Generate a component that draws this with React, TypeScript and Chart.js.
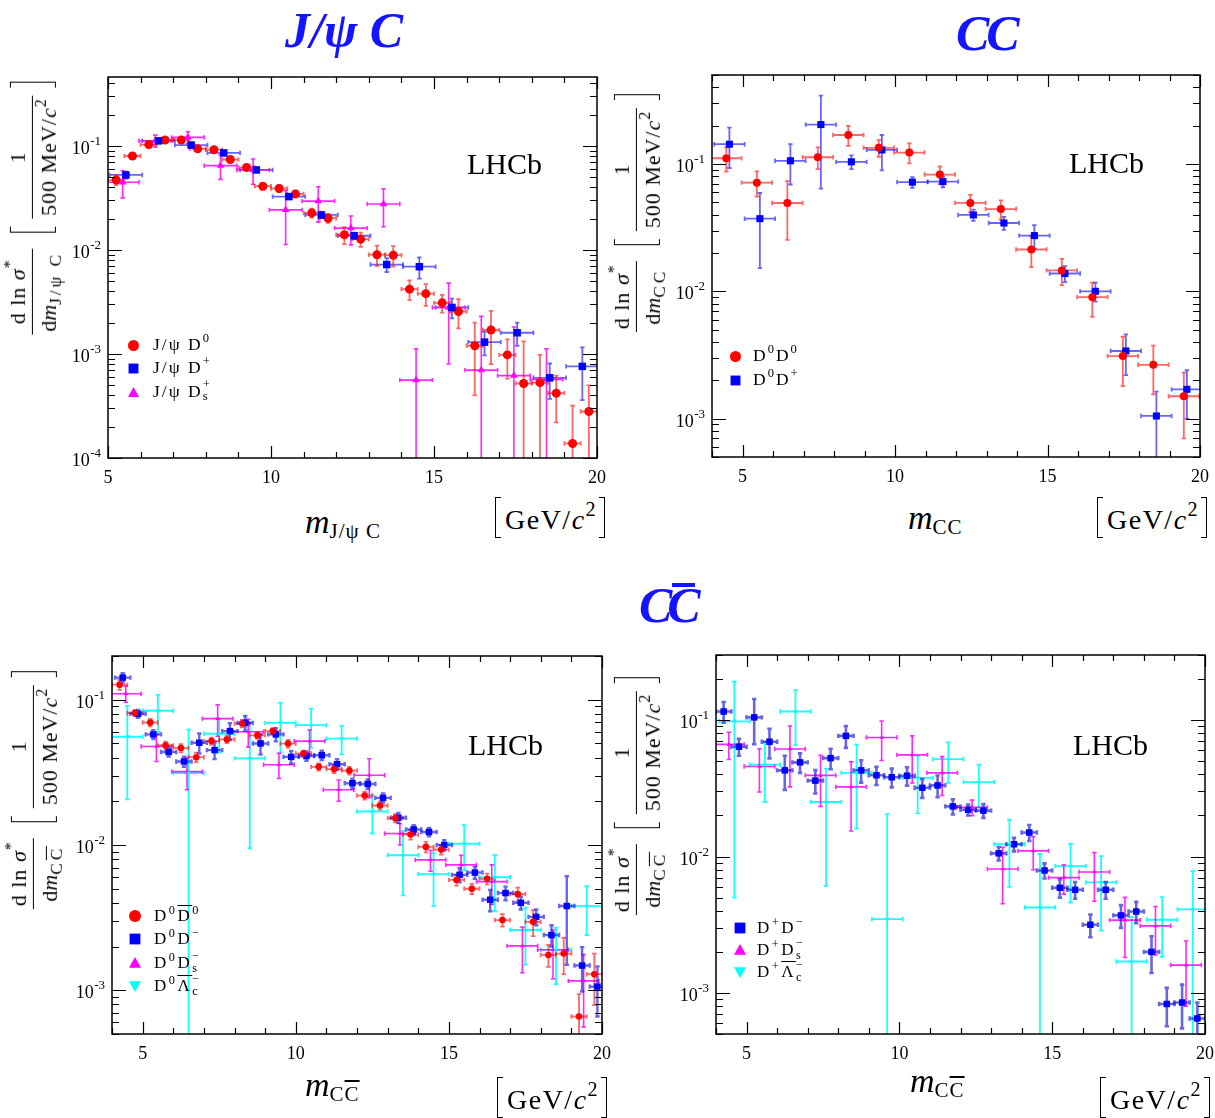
import React, { useEffect, useRef } from "react";
import { Chart, registerables } from "chart.js";

Chart.register(...registerables);

const SERIF = '"Liberation Serif", "DejaVu Serif", serif';
const TITLE_BLUE = "#1414ff";

// ---------- axis ticks ----------
const X_TICK_LABELS = [5, 10, 15, 20];

// ---------- Panel 1 : J/psi C ----------
const P1_JPSID0_X = [5.25, 5.75, 6.25, 6.75, 7.25, 7.75, 8.25, 8.75, 9.25, 9.75, 10.25, 10.75, 11.25, 11.75, 12.25, 12.75, 13.25, 13.75, 14.25, 14.75, 15.25, 15.75, 16.25, 16.75, 17.25, 17.75, 18.25, 18.75, 19.25, 19.75];
const P1_JPSID0_Y = [0.047, 0.08, 0.103, 0.114, 0.114, 0.094, 0.092, 0.074, 0.062, 0.041, 0.039, 0.0346, 0.0227, 0.0202, 0.014, 0.0127, 0.009, 0.0089, 0.0042, 0.0038, 0.0031, 0.00256, 0.0012, 0.0017, 0.00098, 0.00052, 0.00053, 0.00042, 0.000138, 0.00028];
const P1_JPSID0_E = [0.005, 0.005, 0.005, 0.005, 0.005, 0.004, 0.004, 0.004, 0.003, 0.003, 0.003, 0.0025, 0.0022, 0.002, 0.0026, 0.002, 0.002, 0.002, 0.0009, 0.0009, 0.0006, 0.0008, 0.0008, 0.0009, 0.0004, 0.0008, 0.00045, 0.0002, 0.00018, 0.00022];

const P1_JPSIDP_X = [5.55, 6.55, 7.55, 8.55, 9.55, 10.55, 11.55, 12.55, 13.55, 14.55, 15.55, 16.55, 17.55, 18.55, 19.55];
const P1_JPSIDP_Y = [0.0526, 0.112, 0.102, 0.0857, 0.0588, 0.0326, 0.0217, 0.0137, 0.00724, 0.0069, 0.0028, 0.0013, 0.0016, 0.00059, 0.00076];
const P1_JPSIDP_E = [0.004, 0.006, 0.005, 0.004, 0.003, 0.002, 0.0015, 0.001, 0.0011, 0.0016, 0.0006, 0.00033, 0.0004, 0.00022, 0.0004];

const P1_JPSIDS_X = [5.45, 6.45, 7.45, 8.45, 9.45, 10.45, 11.45, 12.45, 13.45, 14.45, 15.45, 16.45, 17.45, 18.45];
const P1_JPSIDS_Y = [0.0447, 0.112, 0.121, 0.0647, 0.0588, 0.0243, 0.0295, 0.0162, 0.0277, 0.00056, 0.0028, 0.0007, 0.00062, 0.00057];
const P1_JPSIDS_E = [0.013, 0.015, 0.016, 0.017, 0.016, 0.013, 0.011, 0.005, 0.011, 0.00056, 0.002, 0.0016, 0.0012, 0.00055];

// ---------- Panel 2 : CC ----------
const P2_D0D0_X = [4.47, 5.47, 6.47, 7.47, 8.47, 9.47, 10.47, 11.47, 12.47, 13.47, 14.47, 15.47, 16.47, 17.47, 18.47, 19.47];
const P2_D0D0_Y = [0.111, 0.0714, 0.0494, 0.113, 0.169, 0.134, 0.123, 0.0826, 0.0495, 0.0443, 0.0213, 0.0146, 0.009, 0.0031, 0.00265, 0.0015];
const P2_D0D0_E = [0.024, 0.016, 0.024, 0.022, 0.03, 0.02, 0.022, 0.013, 0.0078, 0.0075, 0.0058, 0.0034, 0.0027, 0.0013, 0.0011, 0.0008];

const P2_D0DP_X = [4.57, 5.57, 6.57, 7.57, 8.57, 9.57, 10.57, 11.57, 12.57, 13.57, 14.57, 15.57, 16.57, 17.57, 18.57, 19.57];
const P2_D0DP_Y = [0.143, 0.0372, 0.106, 0.204, 0.104, 0.129, 0.072, 0.0727, 0.0398, 0.0344, 0.0274, 0.0138, 0.01, 0.0034, 0.00105, 0.0017];
const P2_D0DP_E = [0.05, 0.022, 0.037, 0.14, 0.013, 0.04, 0.007, 0.007, 0.004, 0.004, 0.0057, 0.002, 0.0017, 0.0012, 0.00058, 0.0007];

// ---------- Panel 3 : C Cbar (D0 + X) ----------
const P3_D0D0B_X = [4.25, 4.75, 5.25, 5.75, 6.25, 6.75, 7.25, 7.75, 8.25, 8.75, 9.25, 9.75, 10.25, 10.75, 11.25, 11.75, 12.25, 12.75, 13.25, 13.75, 14.25, 14.75, 15.25, 15.75, 16.25, 16.75, 17.25, 17.75, 18.25, 18.75, 19.25, 19.75];
const P3_D0D0B_Y = [0.127, 0.081, 0.0697, 0.0485, 0.0465, 0.0402, 0.0519, 0.0533, 0.0686, 0.0568, 0.0608, 0.0499, 0.0426, 0.0345, 0.0333, 0.0325, 0.0219, 0.0187, 0.0153, 0.0118, 0.0097, 0.0093, 0.00575, 0.005, 0.00585, 0.00304, 0.00459, 0.00296, 0.00175, 0.00179, 0.00066, 0.00129];
const P3_D0D0B_E = [0.01, 0.004, 0.004, 0.003, 0.003, 0.003, 0.003, 0.003, 0.004, 0.003, 0.003, 0.003, 0.002, 0.002, 0.002, 0.002, 0.0014, 0.0012, 0.001, 0.0009, 0.0008, 0.0007, 0.0005, 0.0004, 0.0005, 0.0003, 0.0005, 0.0006, 0.0003, 0.0005, 0.00028, 0.0005];

const P3_D0DM_X = [4.35, 4.85, 5.35, 5.85, 6.35, 6.85, 7.35, 7.85, 8.35, 8.85, 9.35, 9.85, 10.35, 10.85, 11.35, 11.85, 12.35, 12.85, 13.35, 13.85, 14.35, 14.85, 15.35, 15.85, 16.35, 16.85, 17.35, 17.85, 18.35, 18.85, 19.35, 19.85];
const P3_D0DM_Y = [0.142, 0.08, 0.0577, 0.0437, 0.0376, 0.0506, 0.045, 0.0608, 0.0693, 0.05, 0.0577, 0.0404, 0.041, 0.0415, 0.036, 0.0266, 0.0263, 0.0211, 0.0154, 0.0128, 0.0123, 0.01, 0.00623, 0.00646, 0.0042, 0.00467, 0.004, 0.0032, 0.0024, 0.0038, 0.00148, 0.00106];
const P3_D0DM_E = [0.01, 0.005, 0.004, 0.003, 0.003, 0.008, 0.006, 0.008, 0.008, 0.008, 0.006, 0.004, 0.003, 0.003, 0.003, 0.002, 0.002, 0.0015, 0.0012, 0.0009, 0.0008, 0.0008, 0.0007, 0.0006, 0.0007, 0.0005, 0.0004, 0.0004, 0.0004, 0.0023, 0.0005, 0.0004];

const P3_D0DS_X = [4.45, 5.45, 6.45, 7.45, 8.45, 9.45, 10.45, 11.4, 12.4, 13.4, 14.4, 15.4, 16.4, 17.4, 18.4, 19.4];
const P3_D0DS_Y = [0.11, 0.0476, 0.032, 0.0741, 0.0602, 0.0357, 0.0519, 0.024, 0.0302, 0.012, 0.0079, 0.0073, 0.0056, 0.00202, 0.0019, 0.00116];
const P3_D0DS_E = [0.014, 0.01, 0.008, 0.018, 0.013, 0.007, 0.01, 0.004, 0.009, 0.002, 0.0013, 0.0012, 0.0017, 0.0007, 0.0007, 0.0006];

const P3_D0LC_X = [4.5, 5.5, 6.5, 7.5, 8.5, 9.5, 10.5, 11.5, 12.5, 13.5, 14.5, 15.5, 16.5, 17.5, 18.5, 19.5];
const P3_D0LC_Y = [0.0556, 0.084, 0.0313, 0.0583, 0.0395, 0.0693, 0.0668, 0.054, 0.017, 0.0085, 0.0063, 0.0102, 0.006, 0.0026, 0.0019, 0.0038];
const P3_D0LC_E = [0.035, 0.024, 0.031, 0.015, 0.03, 0.026, 0.02, 0.012, 0.005, 0.004, 0.0025, 0.0035, 0.0025, 0.0011, 0.0008, 0.0014];

// ---------- Panel 4 : C Cbar (D+ + X) ----------
const P4_DPDM_X = [4.25, 4.75, 5.25, 5.75, 6.25, 6.75, 7.25, 7.75, 8.25, 8.75, 9.25, 9.75, 10.25, 10.75, 11.25, 11.75, 12.25, 12.75, 13.25, 13.75, 14.25, 14.75, 15.25, 15.75, 16.25, 16.75, 17.25, 17.75, 18.25, 18.75, 19.25, 19.75];
const P4_DPDM_Y = [0.1156, 0.0638, 0.1047, 0.0694, 0.0428, 0.049, 0.036, 0.0526, 0.0766, 0.0428, 0.0394, 0.0381, 0.0391, 0.0319, 0.0332, 0.0233, 0.022, 0.0217, 0.01055, 0.0123, 0.015, 0.0079, 0.0059, 0.0057, 0.00316, 0.0057, 0.0037, 0.00395, 0.002, 0.00083, 0.00085, 0.00065];
const P4_DPDM_E = [0.02, 0.009, 0.038, 0.017, 0.012, 0.008, 0.007, 0.009, 0.014, 0.008, 0.006, 0.006, 0.006, 0.005, 0.006, 0.003, 0.002, 0.0025, 0.0012, 0.0014, 0.002, 0.001, 0.0009, 0.0008, 0.0006, 0.0008, 0.0007, 0.0007, 0.0006, 0.00026, 0.0003, 0.0002];

const P4_DPDS_X = [4.42, 5.42, 6.42, 7.42, 8.42, 9.42, 10.42, 11.4, 12.38, 13.38, 14.38, 15.38, 16.38, 17.38, 18.38, 19.38];
const P4_DPDS_Y = [0.0664, 0.0457, 0.0614, 0.0393, 0.0324, 0.0745, 0.0556, 0.041, 0.0229, 0.0081, 0.011, 0.007, 0.0077, 0.00342, 0.0031, 0.0016];
const P4_DPDS_E = [0.015, 0.016, 0.029, 0.016, 0.017, 0.024, 0.021, 0.013, 0.003, 0.0036, 0.003, 0.0017, 0.003, 0.0016, 0.0012, 0.0008];

const P4_DPLC_X = [4.6, 5.6, 6.6, 7.6, 8.6, 9.6, 10.6, 11.6, 12.6, 13.6, 14.6, 15.6, 16.6, 17.6, 18.6, 19.6];
const P4_DPLC_Y = [0.098, 0.0471, 0.1156, 0.0251, 0.041, 0.00348, 0.0377, 0.0517, 0.0351, 0.0123, 0.00423, 0.0085, 0.00646, 0.0017, 0.00344, 0.0041];
const P4_DPLC_E = [0.093, 0.022, 0.05, 0.019, 0.025, 0.017, 0.017, 0.017, 0.012, 0.0063, 0.0062, 0.0039, 0.0036, 0.0019, 0.0016, 0.0037];

// ---------- styling ----------
const RED = "#ff0000";
const BLUE = "#0000ff";
const MAGENTA = "#ff00ff";
const CYAN = "#00ffff";

type SeriesSpec = {
  label: string;
  x: number[];
  y: number[];
  e: number[];
  halfWidth: number;
  color: string;
  barColor: string;
  barWidth: number;
  style: string;
  radius: number;
  rotation?: number;
};

type PanelSpec = {
  id: string;
  rect: { l: number; t: number; r: number; b: number };
  padRight: number;
  xMin: number;
  xMax: number;
  yMin: number;
  yMax: number;
  series: SeriesSpec[];
};

const PANELS: PanelSpec[] = [
  {
    id: "jpsic",
    rect: { l: 108, t: 77, r: 597, b: 458 },
    padRight: 14,
    xMin: 5, xMax: 20, yMin: 1e-4, yMax: 0.46,
    series: [
      { label: "J/ψ D+", x: P1_JPSIDP_X, y: P1_JPSIDP_Y, e: P1_JPSIDP_E, halfWidth: 0.5, color: BLUE, barColor: "rgba(0,0,255,0.6)", barWidth: 1.8, style: "rect", radius: 5.3 },
      { label: "J/ψ Ds+", x: P1_JPSIDS_X, y: P1_JPSIDS_Y, e: P1_JPSIDS_E, halfWidth: 0.5, color: MAGENTA, barColor: "rgba(255,0,255,0.85)", barWidth: 1.6, style: "triangle", radius: 4.4 },
      { label: "J/ψ D0", x: P1_JPSID0_X, y: P1_JPSID0_Y, e: P1_JPSID0_E, halfWidth: 0.25, color: RED, barColor: "rgba(255,0,0,0.6)", barWidth: 1.8, style: "circle", radius: 4.5 },
    ],
  },
  {
    id: "cc",
    rect: { l: 712, t: 75, r: 1200, b: 457 },
    padRight: 12,
    xMin: 4, xMax: 20, yMin: 5e-4, yMax: 0.5,
    series: [
      { label: "D0D0", x: P2_D0D0_X, y: P2_D0D0_Y, e: P2_D0D0_E, halfWidth: 0.5, color: RED, barColor: "rgba(255,0,0,0.6)", barWidth: 1.8, style: "circle", radius: 4 },
      { label: "D0D+", x: P2_D0DP_X, y: P2_D0DP_Y, e: P2_D0DP_E, halfWidth: 0.5, color: BLUE, barColor: "rgba(0,0,255,0.6)", barWidth: 1.8, style: "rect", radius: 5 },
    ],
  },
  {
    id: "ccbar1",
    rect: { l: 112, t: 656, r: 602, b: 1034 },
    padRight: 12,
    xMin: 4, xMax: 20, yMin: 5e-4, yMax: 0.2,
    series: [
      { label: "D0Lc-", x: P3_D0LC_X, y: P3_D0LC_Y, e: P3_D0LC_E, halfWidth: 0.5, color: CYAN, barColor: "rgba(0,255,255,0.9)", barWidth: 1.8, style: "triangle", radius: 2.6, rotation: 180 },
      { label: "D0Ds-", x: P3_D0DS_X, y: P3_D0DS_Y, e: P3_D0DS_E, halfWidth: 0.5, color: MAGENTA, barColor: "rgba(255,0,255,0.85)", barWidth: 1.6, style: "triangle", radius: 2.6 },
      { label: "D0D0bar", x: P3_D0D0B_X, y: P3_D0D0B_Y, e: P3_D0D0B_E, halfWidth: 0.25, color: RED, barColor: "rgba(255,0,0,0.6)", barWidth: 1.8, style: "circle", radius: 3.3 },
      { label: "D0D-", x: P3_D0DM_X, y: P3_D0DM_Y, e: P3_D0DM_E, halfWidth: 0.25, color: BLUE, barColor: "rgba(0,0,230,0.6)", barWidth: 2.4, style: "rect", radius: 4.6 },
    ],
  },
  {
    id: "ccbar2",
    rect: { l: 716, t: 655, r: 1205, b: 1034 },
    padRight: 9,
    xMin: 4, xMax: 20, yMin: 5e-4, yMax: 0.3,
    series: [
      { label: "D+Lc-", x: P4_DPLC_X, y: P4_DPLC_Y, e: P4_DPLC_E, halfWidth: 0.5, color: CYAN, barColor: "rgba(0,255,255,0.9)", barWidth: 1.8, style: "triangle", radius: 2.6, rotation: 180 },
      { label: "D+Ds-", x: P4_DPDS_X, y: P4_DPDS_Y, e: P4_DPDS_E, halfWidth: 0.5, color: MAGENTA, barColor: "rgba(255,0,255,0.85)", barWidth: 1.6, style: "triangle", radius: 2.6 },
      { label: "D+D-", x: P4_DPDM_X, y: P4_DPDM_Y, e: P4_DPDM_E, halfWidth: 0.25, color: BLUE, barColor: "rgba(0,0,200,0.6)", barWidth: 2.6, style: "rect", radius: 4.6 },
    ],
  },
];

// ---------- plugins ----------
const errorBarPlugin = {
  id: "errorBars",
  beforeDatasetsDraw(chart: any) {
    const { ctx, chartArea: a, scales } = chart;
    const xs = scales.x;
    const ys = scales.y;
    ctx.save();
    ctx.beginPath();
    ctx.rect(a.left, a.top, a.right - a.left, a.bottom - a.top);
    ctx.clip();
    chart.data.datasets.forEach((ds: any) => {
      ctx.strokeStyle = ds.barColor;
      ctx.lineWidth = ds.barWidth;
      ds.data.forEach((p: any, i: number) => {
        const e = ds.errY[i];
        const px = xs.getPixelForValue(p.x);
        const py = ys.getPixelForValue(p.y);
        const x0 = xs.getPixelForValue(p.x - ds.errX);
        const x1 = xs.getPixelForValue(p.x + ds.errX);
        const yHi = ys.getPixelForValue(p.y + e);
        const lo = p.y - e;
        const hasLo = lo > ys.min;
        const yLo = hasLo ? ys.getPixelForValue(lo) : a.bottom + 3;
        const c = 2.2;
        ctx.beginPath();
        ctx.moveTo(x0, py);
        ctx.lineTo(x1, py);
        ctx.moveTo(px, yHi);
        ctx.lineTo(px, yLo);
        ctx.moveTo(x0, py - c);
        ctx.lineTo(x0, py + c);
        ctx.moveTo(x1, py - c);
        ctx.lineTo(x1, py + c);
        ctx.moveTo(px - c, yHi);
        ctx.lineTo(px + c, yHi);
        if (hasLo) {
          ctx.moveTo(px - c, yLo);
          ctx.lineTo(px + c, yLo);
        }
        ctx.stroke();
      });
    });
    ctx.restore();
  },
};

const framePlugin = {
  id: "rootFrame",
  afterDraw(chart: any) {
    const { ctx, chartArea: a, scales } = chart;
    const xs = scales.x;
    const ys = scales.y;
    ctx.save();
    ctx.strokeStyle = "#000";
    ctx.lineWidth = 1.5;
    ctx.strokeRect(a.left, a.top, a.right - a.left, a.bottom - a.top);
    ctx.lineWidth = 1.2;
    ctx.beginPath();
    for (let v = Math.ceil(xs.min); v <= xs.max + 1e-9; v++) {
      const px = Math.round(xs.getPixelForValue(v)) + 0.5;
      const len = v % 5 === 0 ? 12 : 6;
      ctx.moveTo(px, a.bottom);
      ctx.lineTo(px, a.bottom - len);
      ctx.moveTo(px, a.top);
      ctx.lineTo(px, a.top + len);
    }
    const e0 = Math.floor(Math.log10(ys.min) + 1e-9);
    const e1 = Math.ceil(Math.log10(ys.max) - 1e-9);
    for (let e = e0; e <= e1; e++) {
      for (let m = 1; m <= 9; m++) {
        const v = m * Math.pow(10, e);
        if (v < ys.min * 0.999 || v > ys.max * 1.001) continue;
        const py = Math.round(ys.getPixelForValue(v)) + 0.5;
        const len = m === 1 ? 14 : 7;
        ctx.moveTo(a.left, py);
        ctx.lineTo(a.left + len, py);
        ctx.moveTo(a.right, py);
        ctx.lineTo(a.right - len, py);
      }
    }
    ctx.stroke();

    ctx.fillStyle = "#000";
    ctx.textBaseline = "alphabetic";
    ctx.font = `18px ${SERIF}`;
    ctx.textAlign = "center";
    X_TICK_LABELS.forEach((v) => {
      ctx.fillText(String(v), xs.getPixelForValue(v), a.bottom + 25);
    });
    ctx.textAlign = "left";
    for (let e = e0; e <= e1; e++) {
      const v = Math.pow(10, e);
      if (v < ys.min * 0.999 || v > ys.max * 1.001) continue;
      const py = ys.getPixelForValue(v);
      const exp = String(e);
      ctx.font = `13px ${SERIF}`;
      const w2 = ctx.measureText(exp).width;
      ctx.font = `18px ${SERIF}`;
      const w1 = ctx.measureText("10").width;
      const right = a.left - 7;
      ctx.fillText("10", right - w2 - w1 - 0.5, py + 8);
      ctx.font = `13px ${SERIF}`;
      ctx.fillText(exp, right - w2, py - 1);
    }
    ctx.restore();
  },
};

// ---------- chart component ----------
const PAD_L = 70;
const PAD_T = 10;
const PAD_B = 36;

function PanelChart({ spec }: { spec: PanelSpec }) {
  const ref = useRef<HTMLCanvasElement>(null);
  const { l, t, r, b } = spec.rect;
  const w = r - l + PAD_L + spec.padRight;
  const h = b - t + PAD_T + PAD_B;
  useEffect(() => {
    if (!ref.current) return;
    const chart = new Chart(ref.current, {
      type: "scatter",
      data: {
        datasets: spec.series.map((s) => ({
          label: s.label,
          data: s.x.map((xv, i) => ({ x: xv, y: s.y[i] })),
          errY: s.e,
          errX: s.halfWidth,
          barColor: s.barColor,
          barWidth: s.barWidth,
          pointStyle: s.style,
          pointRadius: s.radius,
          pointRotation: s.rotation || 0,
          pointBackgroundColor: s.color,
          pointBorderColor: s.color,
          pointBorderWidth: 0,
          showLine: false,
        })) as any,
      },
      options: {
        responsive: false,
        animation: false,
        events: [],
        layout: { padding: { left: PAD_L, top: PAD_T, right: spec.padRight, bottom: PAD_B } },
        scales: {
          x: { type: "linear", min: spec.xMin, max: spec.xMax, display: false },
          y: { type: "logarithmic", min: spec.yMin, max: spec.yMax, display: false },
        },
        plugins: {
          legend: { display: false },
          tooltip: { enabled: false },
          title: { display: false },
        },
      } as any,
      plugins: [errorBarPlugin, framePlugin],
    });
    return () => chart.destroy();
  }, [spec]);
  return (
    <canvas
      ref={ref}
      width={w}
      height={h}
      style={{ position: "absolute", left: l - PAD_L, top: t - PAD_T, width: w, height: h }}
    />
  );
}

// ---------- text helpers ----------
const Sup = ({ children }: { children: React.ReactNode }) => (
  <span style={{ fontSize: "0.72em", position: "relative", top: "-0.62em" }}>{children}</span>
);
const Sub = ({ children, spacing }: { children: React.ReactNode; spacing?: number }) => (
  <span style={{ fontSize: "0.78em", position: "relative", top: "0.3em", letterSpacing: spacing || 0 }}>{children}</span>
);
const SupSub = ({ sup, sub }: { sup: React.ReactNode; sub: React.ReactNode }) => (
  <span style={{ position: "relative", display: "inline-block", fontSize: "0.72em", width: "0.75em", height: "1em", lineHeight: 1 }}>
    <span style={{ position: "absolute", left: 0, top: "-0.5em", lineHeight: 1 }}>{sup}</span>
    <span style={{ position: "absolute", left: 0, top: "0.45em", lineHeight: 1 }}>{sub}</span>
  </span>
);
const Bar = ({ children }: { children: React.ReactNode }) => (
  <span style={{ textDecoration: "overline" }}>{children}</span>
);

function Baseline({ left, base, size, children, style }: { left: number; base: number; size: number; children: React.ReactNode; style?: React.CSSProperties }) {
  return (
    <div
      style={{
        position: "absolute",
        left,
        top: base - 0.8375 * size,
        fontSize: size,
        lineHeight: 1,
        fontFamily: SERIF,
        whiteSpace: "nowrap",
        ...style,
      }}
    >
      {children}
    </div>
  );
}

function Frac({ num, den }: { num: React.ReactNode; den: React.ReactNode }) {
  return (
    <span style={{ display: "inline-flex", flexDirection: "column", alignItems: "center", lineHeight: 1.05 }}>
      <span style={{ padding: "0 3px 3px" }}>{num}</span>
      <span style={{ borderTop: "1.4px solid #000", padding: "4px 3px 0", alignSelf: "stretch", textAlign: "center" }}>{den}</span>
    </span>
  );
}

function Bracket({ side, h }: { side: "l" | "r"; h: number }) {
  const bw = "1.6px solid #000";
  return (
    <span
      style={{
        display: "inline-block",
        width: 6,
        height: h,
        borderTop: bw,
        borderBottom: bw,
        borderLeft: side === "l" ? bw : "none",
        borderRight: side === "r" ? bw : "none",
        boxSizing: "border-box",
      }}
    />
  );
}

function YTitle({ cx, cy, sub }: { cx: number; cy: number; sub: React.ReactNode }) {
  return (
    <div
      style={{
        position: "absolute",
        left: cx,
        top: cy,
        transform: "translate(-50%,-50%) rotate(-90deg)",
        display: "flex",
        alignItems: "center",
        fontFamily: SERIF,
        fontSize: 22,
        whiteSpace: "nowrap",
        lineHeight: 1,
      }}
    >
      <Frac
        num={
          <span style={{ letterSpacing: 1 }}>
            d ln <i>σ</i>
            <Sup>*</Sup>
          </span>
        }
        den={
          <>
            d<i>m</i>
            <Sub spacing={3}>{sub}</Sub>
          </>
        }
      />
      <span style={{ display: "inline-block", width: 16 }} />
      <Bracket side="l" h={46} />
      <span style={{ padding: "0 8px", letterSpacing: 1 }}>
        <Frac
          num="1"
          den={
            <>
              500 MeV/<i>c</i>
              <Sup>2</Sup>
            </>
          }
        />
      </span>
      <Bracket side="r" h={46} />
    </div>
  );
}

function XTitle({ left, base, sub }: { left: number; base: number; sub: React.ReactNode }) {
  return (
    <Baseline left={left} base={base} size={34}>
      <i>m</i>
      <span style={{ fontSize: 21, position: "relative", top: 5, letterSpacing: 1 }}>{sub}</span>
    </Baseline>
  );
}

function Units({ left, top }: { left: number; top: number }) {
  return (
    <div
      style={{
        position: "absolute",
        left,
        top,
        height: 41,
        display: "flex",
        alignItems: "center",
        fontFamily: SERIF,
        fontSize: 28,
        lineHeight: 1,
        whiteSpace: "nowrap",
      }}
    >
      <Bracket side="l" h={41} />
      <span style={{ padding: "4px 2px 0 4px", letterSpacing: 1.5 }}>
        GeV/<i>c</i>
        <Sup>2</Sup>
      </span>
      <Bracket side="r" h={41} />
    </div>
  );
}

function Marker({ kind, color, size }: { kind: string; color: string; size: number }) {
  let shape: React.ReactNode = null;
  if (kind === "circle") shape = <circle cx={0} cy={0} r={1} fill={color} />;
  else if (kind === "rect") shape = <rect x={-0.9} y={-0.9} width={1.8} height={1.8} fill={color} />;
  else if (kind === "up") shape = <polygon points="0,-1 1,0.8 -1,0.8" fill={color} />;
  else shape = <polygon points="0,1 1,-0.8 -1,-0.8" fill={color} />;
  return (
    <svg width={size} height={size} viewBox="-1 -1 2 2" style={{ display: "block" }}>
      {shape}
    </svg>
  );
}

type LegendRow = { kind: string; color: string; text: React.ReactNode };

function Legend({ mx, tx, ys, size, fs, spacing, rows }: { mx: number; tx: number; ys: number[]; size: number; fs: number; spacing: number; rows: LegendRow[] }) {
  return (
    <>
      {rows.map((row, i) => (
        <React.Fragment key={i}>
          <div style={{ position: "absolute", left: mx - size / 2, top: ys[i] - size / 2 }}>
            <Marker kind={row.kind} color={row.color} size={size} />
          </div>
          <div
            style={{
              position: "absolute",
              left: tx,
              top: ys[i] - 0.51 * fs,
              fontSize: fs,
              lineHeight: 1,
              fontFamily: SERIF,
              whiteSpace: "nowrap",
              letterSpacing: spacing,
            }}
          >
            {row.text}
          </div>
        </React.Fragment>
      ))}
    </>
  );
}

function LHCb({ left, base }: { left: number; base: number }) {
  return (
    <Baseline left={left} base={base} size={30}>
      LHCb
    </Baseline>
  );
}

const titleStyle: React.CSSProperties = {
  color: TITLE_BLUE,
  fontWeight: "bold",
  fontStyle: "italic",
};

export default function App() {
  return (
    <div
      style={{
        position: "absolute",
        left: 0,
        top: 0,
        width: 1215,
        height: 1118,
        overflow: "hidden",
        background: "#fff",
        fontFamily: SERIF,
      }}
    >
      {PANELS.map((p) => (
        <PanelChart key={p.id} spec={p} />
      ))}

      {/* Titles */}
      <Baseline left={285} base={47} size={50} style={titleStyle}>
        J/ψ C
      </Baseline>
      <Baseline left={956} base={50} size={50} style={{ ...titleStyle, letterSpacing: -3 }}>
        CC
      </Baseline>
      <Baseline left={639} base={622} size={50} style={{ ...titleStyle, letterSpacing: -5 }}>
        C
        <span style={{ position: "relative" }}>
          C
          <span style={{ position: "absolute", left: "18%", right: "4%", top: 6, height: 4, background: TITLE_BLUE }} />
        </span>
      </Baseline>

      {/* LHCb labels */}
      <LHCb left={467} base={174} />
      <LHCb left={1069} base={173} />
      <LHCb left={468} base={755} />
      <LHCb left={1073} base={755} />

      {/* Y axis titles */}
      <YTitle cx={33} cy={208} sub={<>J/ψ C</>} />
      <YTitle cx={637} cy={213} sub={<>CC</>} />
      <YTitle cx={34} cy={790} sub={<>C<Bar>C</Bar></>} />
      <YTitle cx={637} cy={796} sub={<>C<Bar>C</Bar></>} />

      {/* X axis titles */}
      <XTitle left={305} base={533} sub={<>J/ψ C</>} />
      <Units left={495} top={497} />
      <XTitle left={908} base={529} sub={<>CC</>} />
      <Units left={1097} top={497} />
      <XTitle left={305} base={1096} sub={<>C<Bar>C</Bar></>} />
      <Units left={497} top={1077} />
      <XTitle left={910} base={1092} sub={<>C<Bar>C</Bar></>} />
      <Units left={1100} top={1077} />

      {/* Legends */}
      <Legend
        mx={133}
        tx={153}
        ys={[345, 368, 392]}
        size={11}
        fs={17.5}
        spacing={2}
        rows={[
          { kind: "circle", color: RED, text: <>J/ψ D<Sup>0</Sup></> },
          { kind: "rect", color: BLUE, text: <>J/ψ D<Sup>+</Sup></> },
          { kind: "up", color: MAGENTA, text: <>J/ψ D<SupSub sup="+" sub="s" /></> },
        ]}
      />
      <Legend
        mx={735}
        tx={753}
        ys={[356, 380]}
        size={11}
        fs={17.5}
        spacing={2}
        rows={[
          { kind: "circle", color: RED, text: <>D<Sup>0</Sup>D<Sup>0</Sup></> },
          { kind: "rect", color: BLUE, text: <>D<Sup>0</Sup>D<Sup>+</Sup></> },
        ]}
      />
      <Legend
        mx={135}
        tx={154}
        ys={[916, 939, 963, 986]}
        size={12}
        fs={17}
        spacing={2.5}
        rows={[
          { kind: "circle", color: RED, text: <>D<Sup>0</Sup><Bar>D</Bar><Sup>0</Sup></> },
          { kind: "rect", color: BLUE, text: <>D<Sup>0</Sup>D<Sup>−</Sup></> },
          { kind: "up", color: MAGENTA, text: <>D<Sup>0</Sup>D<SupSub sup="−" sub="s" /></> },
          { kind: "down", color: CYAN, text: <>D<Sup>0</Sup><Bar>Λ</Bar><SupSub sup="−" sub="c" /></> },
        ]}
      />
      <Legend
        mx={740}
        tx={757}
        ys={[928, 950, 972]}
        size={12}
        fs={17}
        spacing={2.5}
        rows={[
          { kind: "rect", color: BLUE, text: <>D<Sup>+</Sup>D<Sup>−</Sup></> },
          { kind: "up", color: MAGENTA, text: <>D<Sup>+</Sup>D<SupSub sup="−" sub="s" /></> },
          { kind: "down", color: CYAN, text: <>D<Sup>+</Sup><Bar>Λ</Bar><SupSub sup="−" sub="c" /></> },
        ]}
      />
    </div>
  );
}
